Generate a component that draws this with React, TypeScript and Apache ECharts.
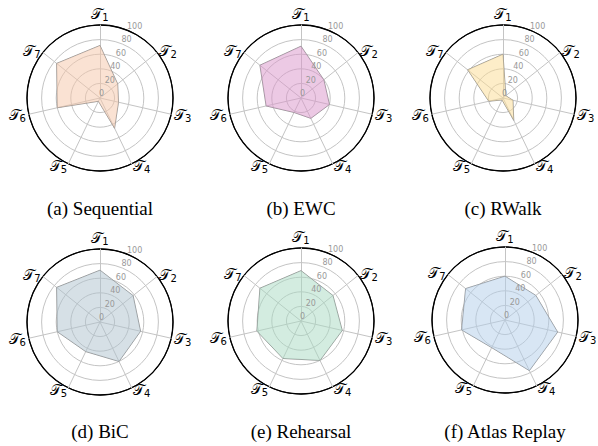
import React, { useEffect, useRef } from "react";
import * as echarts from "echarts";

const tasks = ["1", "2", "3", "4", "5", "6", "7"];
const sequential = [72, 31, 26, 46, 5, 60, 76];
const ewc = [71, 40, 40, 31, 22, 49, 72];
const rwalk = [60, 5, 14, 34, 3, 20, 62];
const bic = [71, 58, 57, 60, 45, 60, 76];
const rehearsal = [69, 56, 58, 60, 57, 62, 72];
const atlasReplay = [60, 54, 74, 77, 42, 61, 69];
const captions = ["(a) Sequential", "(b) EWC", "(c) RWalk", "(d) BiC", "(e) Rehearsal", "(f) Atlas Replay"];
const radialMax = 100;
const radialStep = 20;

const panelData = [sequential, ewc, rwalk, bic, rehearsal, atlasReplay];
const fills = [
  "rgba(245,197,167,0.5)",
  "rgba(217,147,201,0.5)",
  "rgba(251,219,145,0.5)",
  "rgba(173,193,205,0.5)",
  "rgba(167,217,193,0.5)",
  "rgba(177,205,233,0.5)",
];
const centers = [
  [100, 98],
  [301, 98],
  [503, 98],
  [100, 322],
  [301, 321],
  [505, 320],
];
const R = 73;

export default function App() {
  const ref = useRef<HTMLDivElement>(null);
  useEffect(() => {
    const chart = echarts.init(ref.current!, undefined, { renderer: "svg" });
    // clockwise order: ECharts radar runs counter-clockwise
    const order = [0, 6, 5, 4, 3, 2, 1];
    const radar: any[] = [];
    const polar: any[] = [];
    const angleAxis: any[] = [];
    const radiusAxis: any[] = [];
    const series: any[] = [];
    const title: any[] = [];
    panelData.forEach((vals, i) => {
      const c = centers[i];
      radar.push({
        center: c,
        radius: R,
        startAngle: 90,
        shape: "circle",
        splitNumber: radialMax / radialStep,
        indicator: order.map((k) => ({ name: tasks[k], max: radialMax, min: 0 })),
        nameGap: 3,
        axisName: {
          formatter: (n: string) => `{t|𝒯}{s|${n}}`,
          rich: {
            t: { fontSize: 15, color: "#000", fontFamily: "DejaVu Sans" },
            s: { fontSize: 10, color: "#000", fontFamily: "DejaVu Sans", padding: [7, 0, 0, 0] },
          },
        },
        axisLine: { lineStyle: { color: "#c4c4c4", width: 1 } },
        splitLine: {
          lineStyle: { color: ["#c4c4c4", "#c4c4c4", "#c4c4c4", "#c4c4c4", "#c4c4c4", "#000"], width: 1 },
        },
        splitArea: { show: false },
        axisTick: { show: false },
        axisLabel: { show: false },
      });
      polar.push({ center: c, radius: R });
      angleAxis.push({
        polarIndex: i,
        type: "value",
        startAngle: 67.5,
        min: 0,
        max: 360,
        axisLine: { show: true, lineStyle: { color: "#000", width: 1.3 } },
        axisTick: { show: false },
        axisLabel: { show: false },
        splitLine: { show: false },
      });
      radiusAxis.push({
        polarIndex: i,
        type: "value",
        min: 0,
        max: radialMax,
        interval: radialStep,
        axisLine: { show: false },
        axisTick: { show: false },
        splitLine: { show: false },
        axisLabel: {
          show: true,
          color: "#999",
          fontSize: 8,
          fontFamily: "DejaVu Sans",
          margin: 1,
          align: "left",
          verticalAlign: "bottom",
        },
        z: 5,
      });
      series.push({
        type: "radar",
        radarIndex: i,
        symbol: "none",
        lineStyle: { color: "#999", width: 1 },
        areaStyle: { color: fills[i], opacity: 1 },
        data: [{ value: order.map((k) => vals[k]) }],
      });
      title.push({
        text: captions[i],
        left: c[0],
        top: i < 3 ? 199 : 422,
        textAlign: "center",
        textStyle: {
          fontFamily: "'Liberation Serif', 'Times New Roman', serif",
          fontSize: 19,
          fontWeight: "normal",
          color: "#000",
        },
        padding: 0,
      });
    });
    chart.setOption({
      animation: false,
      title,
      radar,
      polar,
      angleAxis,
      radiusAxis,
      series,
    });
    return () => chart.dispose();
  }, []);
  return (
    <div
      ref={ref}
      style={{ position: "fixed", left: 0, top: 0, width: 598, height: 446, background: "#fff" }}
    />
  );
}
